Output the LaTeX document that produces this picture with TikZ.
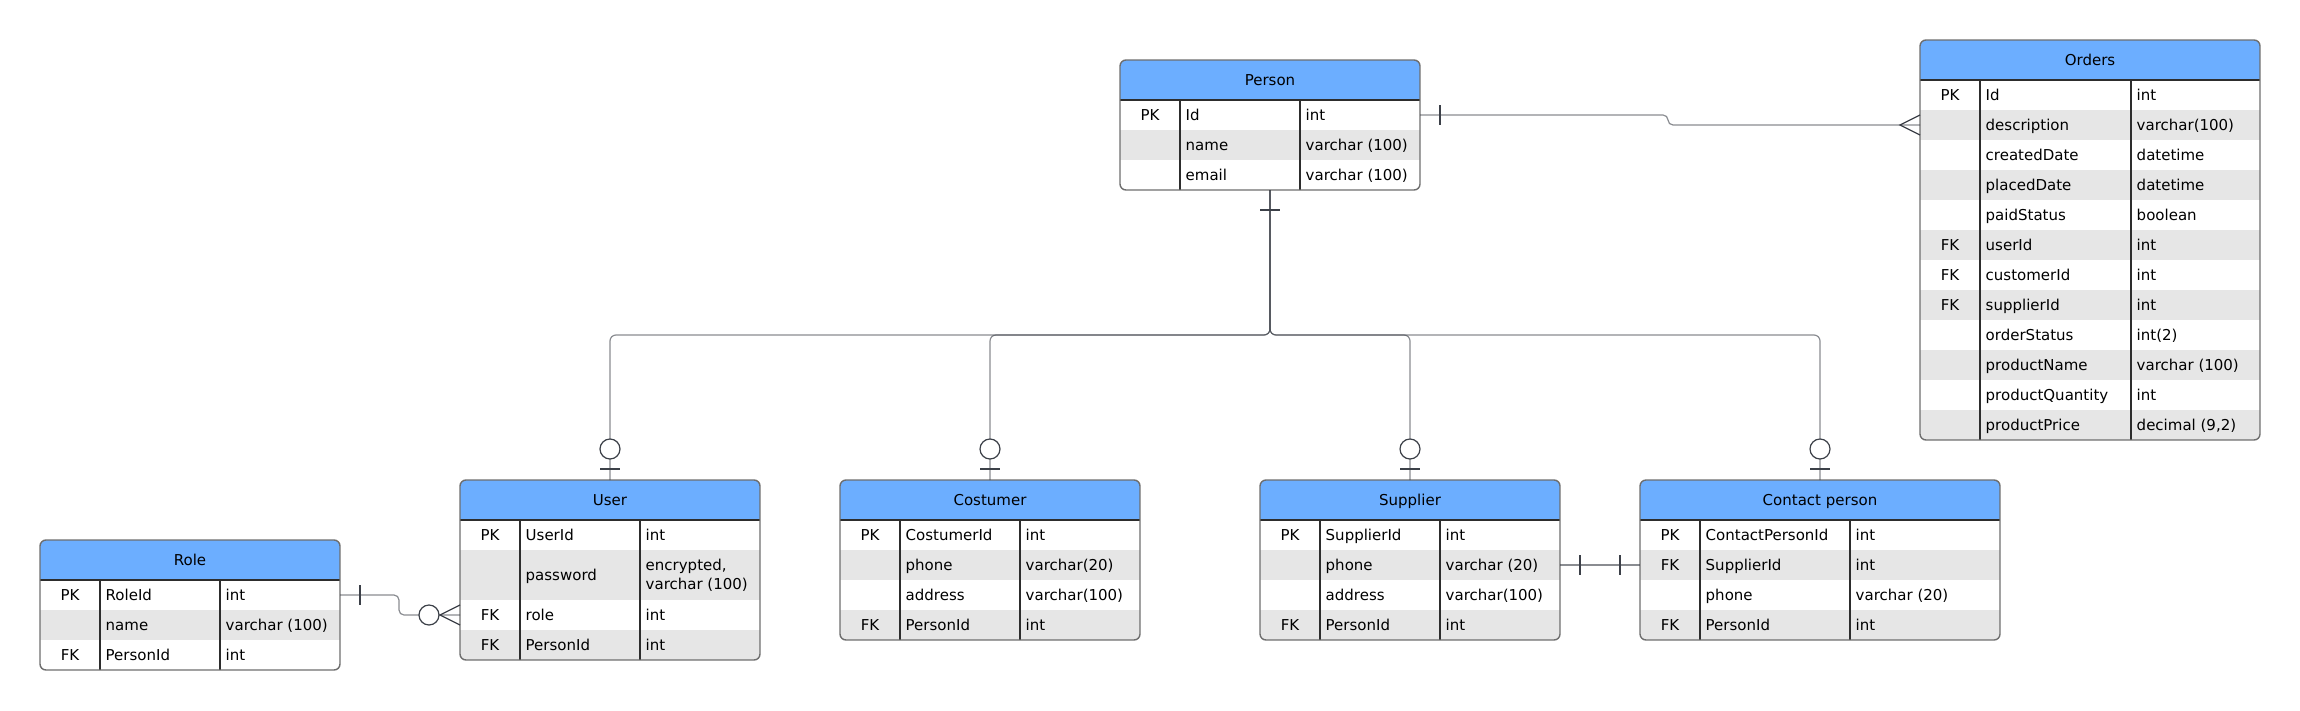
\documentclass[tikz,border=0pt]{standalone}
\usepackage{fontspec}
\setmainfont{DejaVu Sans}
\usetikzlibrary{calc}
\definecolor{hdrblue}{RGB}{108,174,255}
\definecolor{rowgray}{RGB}{230,230,230}
\definecolor{bordergray}{RGB}{110,110,110}
\definecolor{linedark}{RGB}{45,45,45}
\definecolor{connclr}{RGB}{60,64,72}
\newcommand\tblfont{\fontsize{15}{19}\selectfont}
\tikzset{
  tablebox/.style={rectangle, fill=white, draw=none, inner sep=0pt, outer sep=0pt, anchor=north west},
  celltext/.style={anchor=west, inner sep=0pt, font=\tblfont, text height=13pt, text depth=2pt},
  multitext/.style={anchor=west, inner sep=0pt, font=\tblfont, align=left},
  keytext/.style={anchor=center, inner sep=0pt, font=\tblfont, text height=13pt, text depth=2pt},
  titletext/.style={anchor=center, inner sep=0pt, font=\tblfont, text height=13pt, text depth=2pt},
  tframe/.style={draw=bordergray, line width=1.4pt, rounded corners=6pt},
  colsep/.style={draw=linedark, line width=1.1pt},
  conn/.style={draw=connclr, line width=1.2pt, draw opacity=0.6},
  marker/.style={draw=connclr, line width=1.2pt},
}
% id, L, A, B, R, top, bottom, title
\newcommand\ERtable[8]{%
  \def\tId{#1}\def\tL{#2}\def\tA{#3}\def\tB{#4}\def\tR{#5}\def\tT{#6}\def\tBot{#7}%
  \node[tablebox, minimum width={#5-#2}, minimum height={#7-#6}] (#1) at (#2,#6) {};
  \begin{scope}
  \clip[rounded corners=6pt] (#1.north west) rectangle (#1.south east);
  \fill[hdrblue] (#1.north west) rectangle (#5,#6+40);
  \node[titletext] (#1-title) at ({(#2+#5)/2},{#6+20}) {#8};
}
% n, ytop, h, shade, key, name, type
\newcommand\ERrow[7]{%
  \ifnum#4=1 \fill[rowgray] (\tL,#2) rectangle (\tR,#2+#3);\fi
  \coordinate (\tId-L#1) at (\tL,{#2+#3/2});
  \coordinate (\tId-R#1) at (\tR,{#2+#3/2});
  \node[keytext] (\tId-k#1) at ({(\tL+\tA)/2},{#2+#3/2}) {#5};
  \node[celltext] (\tId-n#1) at ({\tA+5.5},{#2+#3/2}) {#6};
  \node[celltext] (\tId-t#1) at ({\tB+5.5},{#2+#3/2}) {#7};
}
\newcommand\ERend[1]{%
  \draw[colsep] (\tL,\tT+40) -- (\tR,\tT+40);
  \draw[colsep] (\tA,\tT+40) -- (\tA,\tBot);
  \draw[colsep] (\tB,\tT+40) -- (\tB,\tBot);
  \end{scope}
  \draw[tframe] (#1.north west) rectangle (#1.south east);
}
\begin{document}
\begin{tikzpicture}[x=1pt,y=-1pt]
\useasboundingbox (0,0) rectangle (2300,710);

% Person
\ERtable{person}{1120}{1180}{1300}{1420}{60}{190}{Person}
\ERrow{1}{100}{30}{0}{PK}{Id}{int}
\ERrow{2}{130}{30}{1}{}{name}{varchar (100)}
\ERrow{3}{160}{30}{0}{}{email}{varchar (100)}
\ERend{person}

% Orders
\ERtable{orders}{1920}{1980}{2131}{2260}{40}{440}{Orders}
\ERrow{1}{80}{30}{0}{PK}{Id}{int}
\ERrow{2}{110}{30}{1}{}{description}{varchar(100)}
\ERrow{3}{140}{30}{0}{}{createdDate}{datetime}
\ERrow{4}{170}{30}{1}{}{placedDate}{datetime}
\ERrow{5}{200}{30}{0}{}{paidStatus}{boolean}
\ERrow{6}{230}{30}{1}{FK}{userId}{int}
\ERrow{7}{260}{30}{0}{FK}{customerId}{int}
\ERrow{8}{290}{30}{1}{FK}{supplierId}{int}
\ERrow{9}{320}{30}{0}{}{orderStatus}{int(2)}
\ERrow{10}{350}{30}{1}{}{productName}{varchar (100)}
\ERrow{11}{380}{30}{0}{}{productQuantity}{int}
\ERrow{12}{410}{30}{1}{}{productPrice}{decimal (9,2)}
\ERend{orders}

% Role
\ERtable{role}{40}{100}{220}{340}{540}{670}{Role}
\ERrow{1}{580}{30}{0}{PK}{RoleId}{int}
\ERrow{2}{610}{30}{1}{}{name}{varchar (100)}
\ERrow{3}{640}{30}{0}{FK}{PersonId}{int}
\ERend{role}

% User
\ERtable{user}{460}{520}{640}{760}{480}{660}{User}
\ERrow{1}{520}{30}{0}{PK}{UserId}{int}
\ERrow{2}{550}{50}{1}{}{password}{}
\node[multitext] (user-t2b) at (645.5,575) {encrypted,\\varchar (100)};
\ERrow{3}{600}{30}{0}{FK}{role}{int}
\ERrow{4}{630}{30}{1}{FK}{PersonId}{int}
\ERend{user}

% Costumer
\ERtable{costumer}{840}{900}{1020}{1140}{480}{640}{Costumer}
\ERrow{1}{520}{30}{0}{PK}{CostumerId}{int}
\ERrow{2}{550}{30}{1}{}{phone}{varchar(20)}
\ERrow{3}{580}{30}{0}{}{address}{varchar(100)}
\ERrow{4}{610}{30}{1}{FK}{PersonId}{int}
\ERend{costumer}

% Supplier
\ERtable{supplier}{1260}{1320}{1440}{1560}{480}{640}{Supplier}
\ERrow{1}{520}{30}{0}{PK}{SupplierId}{int}
\ERrow{2}{550}{30}{1}{}{phone}{varchar (20)}
\ERrow{3}{580}{30}{0}{}{address}{varchar(100)}
\ERrow{4}{610}{30}{1}{FK}{PersonId}{int}
\ERend{supplier}

% Contact person
\ERtable{contact}{1640}{1700}{1850}{2000}{480}{640}{Contact person}
\ERrow{1}{520}{30}{0}{PK}{ContactPersonId}{int}
\ERrow{2}{550}{30}{1}{FK}{SupplierId}{int}
\ERrow{3}{580}{30}{0}{}{phone}{varchar (20)}
\ERrow{4}{610}{30}{1}{FK}{PersonId}{int}
\ERend{contact}

% ---- connectors ----
% Person -> Orders
\draw[conn, rounded corners=5pt] (person-R1) -- ++(248,0) |- (orders-L2);
\draw[marker] ($(person-R1)+(20,-10)$) -- ++(0,20);
\draw[marker] ($(orders-L2)+(0,-10)$) -- ($(orders-L2)+(-20,0)$) -- ($(orders-L2)+(0,10)$);

% Person -> subtypes
\coordinate (hub) at (1270,335);
\foreach \c in {user,costumer,supplier,contact}{
  \draw[conn, rounded corners=6pt] (person.south) -- (hub) -| (\c.north);
}
\draw[marker] ($(person.south)+(-10,20)$) -- ++(20,0);
\foreach \c in {user,costumer,supplier,contact}{
  \draw[marker, fill=white] ($(\c.north)+(0,-31)$) circle[radius=10pt];
  \draw[marker] ($(\c.north)+(-10,-11)$) -- ++(20,0);
}

% Role -> User
\draw[conn, rounded corners=5pt] (role-R1) -- ++(59,0) |- (user-L3);
\draw[marker] ($(role-R1)+(20,-10)$) -- ++(0,20);
\draw[marker, fill=white] ($(user-L3)+(-31,0)$) circle[radius=10pt];
\draw[marker] ($(user-L3)+(0,-10)$) -- ($(user-L3)+(-20,0)$) -- ($(user-L3)+(0,10)$);

% Supplier -> Contact person
\draw[conn] (supplier-R2) -- (contact-L2);
\draw[marker] ($(supplier-R2)+(20,-10)$) -- ++(0,20);
\draw[marker] ($(contact-L2)+(-20,-10)$) -- ++(0,20);
\end{tikzpicture}
\end{document}
